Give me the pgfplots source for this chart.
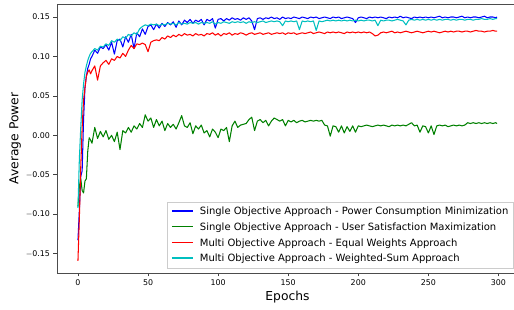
\documentclass[border=0pt]{standalone}
\usepackage{pgfplots}
\pgfplotsset{compat=1.18}
\usepackage{fontspec}
\setmainfont{DejaVu Sans}
\definecolor{mplb}{rgb}{0,0,1}
\definecolor{mplg}{rgb}{0,0.5,0}
\definecolor{mplr}{rgb}{1,0,0}
\definecolor{mplc}{rgb}{0,0.75,0.75}
\newcommand\limg[1]{\textcolor{#1}{\rule[0.32em]{21pt}{1.1pt}}\hspace{7pt}}
\begin{document}
\begin{tikzpicture}
\begin{axis}[
  scale only axis,
  width=461pt, height=269pt,
  xmin=-14.95, xmax=313.95,
  ymin=-0.1745, ymax=0.1665,
  xtick={0,50,100,150,200,250,300},
  ytick={-0.15,-0.10,-0.05,0,0.05,0.10,0.15},
  yticklabels={$-$0.15,$-$0.10,$-$0.05,0.00,0.05,0.10,0.15},
  xtick pos=bottom, ytick pos=left,
  tick align=outside, major tick length=3.5pt,
  tick style={black!75, line width=0.6pt},
  axis line style={black!70, line width=0.7pt},
  /pgf/number format/assume math mode=true,
  ticklabel style={font=\fontsize{7.9}{9}\selectfont},
  xlabel={Epochs}, ylabel={Average Power},
  label style={font=\fontsize{12.3}{14}\selectfont},
  xlabel style={yshift=2pt},
  ylabel style={yshift=-2pt},
  legend cell align=left,
  legend style={at={(1,0)}, xshift=-5pt, yshift=5pt, anchor=south east,
    draw=black!20, fill=white,
    font=\fontsize{10}{12}\selectfont, row sep=2.6pt, inner sep=2.5pt},
  legend image code/.code={},
]
\addplot[mplb, line width=1.05pt, line join=round] coordinates {
(0,-0.133)(1,-0.095)(2,-0.052)(3,-0.045)(4,0.02)(5,0.06)(6,0.075)(7,0.085)(8,0.09)(9,0.097)(10,0.1)
(12,0.108)(14,0.104)(16,0.112)(18,0.11)(20,0.115)(22,0.108)(24,0.118)(26,0.103)(28,0.12)(30,0.122)
(32,0.112)(34,0.125)(36,0.118)(38,0.128)(40,0.11)(42,0.13)(44,0.125)(46,0.135)(48,0.128)(50,0.138)
(52,0.14)(54,0.134)(56,0.141)(58,0.136)(60,0.142)(62,0.138)(64,0.143)(66,0.14)(68,0.144)(70,0.137)
(72,0.145)(74,0.14)(76,0.146)(78,0.143)(80,0.147)(82,0.142)(84,0.146)(86,0.144)(88,0.147)(90,0.14)
(92,0.147)(94,0.145)(96,0.148)(98,0.136)(100,0.147)(102,0.148)(104,0.145)(106,0.148)(108,0.146)(110,0.149)
(112,0.147)(114,0.148)(116,0.146)(118,0.149)(120,0.147)(122,0.149)(124,0.145)(126,0.134)(128,0.148)(130,0.149)
(132,0.147)(134,0.149)(136,0.148)(138,0.15)(140,0.148)(142,0.149)(144,0.147)(146,0.15)(148,0.148)(150,0.149)
(152,0.148)(154,0.15)(156,0.149)(158,0.148)(160,0.15)(162,0.149)(164,0.148)(166,0.15)(168,0.149)(170,0.15)
(172,0.148)(174,0.149)(176,0.15)(178,0.149)(180,0.148)(182,0.15)(184,0.149)(186,0.15)(188,0.148)(190,0.149)
(192,0.15)(194,0.149)(196,0.148)(198,0.143)(200,0.149)(202,0.15)(204,0.149)(206,0.148)(208,0.15)(210,0.149)
(212,0.15)(214,0.149)(216,0.15)(218,0.149)(220,0.148)(222,0.15)(224,0.149)(226,0.15)(228,0.149)(230,0.151)
(232,0.149)(234,0.15)(236,0.149)(238,0.148)(240,0.15)(242,0.149)(244,0.15)(246,0.149)(248,0.15)(250,0.149)
(252,0.15)(254,0.149)(256,0.15)(258,0.151)(260,0.149)(262,0.15)(264,0.149)(266,0.15)(268,0.15)(270,0.149)
(272,0.15)(274,0.151)(276,0.149)(278,0.15)(280,0.149)(282,0.15)(284,0.15)(286,0.149)(288,0.15)(290,0.151)
(292,0.149)(294,0.15)(296,0.15)(298,0.149)(299,0.15)
};
\addlegendentry{\limg{mplb}Single Objective Approach - Power Consumption Minimization}
\addplot[mplg, line width=1.05pt, line join=round] coordinates {
(0,-0.09)(1,-0.065)(2,-0.055)(3,-0.07)(4,-0.073)(5,-0.058)(6,-0.055)(7,-0.02)(8,-0.003)(9,-0.006)(10,-0.01)
(12,0.01)(14,-0.004)(16,0.005)(18,-0.002)(20,0.006)(22,-0.005)(24,0.0)(26,-0.008)(28,0.004)(30,-0.018)
(32,0.006)(34,0.003)(36,0.01)(38,0.004)(40,0.012)(42,0.008)(44,0.015)(46,0.01)(48,0.026)(50,0.018)
(52,0.022)(54,0.01)(56,0.02)(58,0.012)(60,0.018)(62,0.006)(64,0.015)(66,0.01)(68,0.014)(70,0.008)
(72,0.016)(74,0.025)(76,0.012)(78,0.01)(80,0.016)(82,0.002)(84,0.012)(86,0.008)(88,0.013)(90,0.003)
(92,0.006)(94,-0.002)(96,0.008)(98,0.004)(100,-0.003)(102,0.008)(104,0.006)(106,0.01)(108,-0.008)(110,0.012)
(112,0.018)(114,0.01)(116,0.013)(118,0.014)(120,0.015)(122,0.02)(124,0.023)(126,0.006)(128,0.018)(130,0.02)
(132,0.016)(134,0.019)(136,0.012)(138,0.018)(140,0.022)(142,0.02)(144,0.018)(146,0.02)(148,0.012)(150,0.019)
(152,0.017)(154,0.019)(156,0.016)(158,0.018)(160,0.019)(162,0.017)(164,0.018)(166,0.019)(168,0.018)(170,0.019)
(172,0.018)(174,0.019)(176,0.013)(178,0.012)(180,-0.001)(182,0.012)(184,0.011)(186,0.004)(188,0.012)(190,0.003)
(192,0.011)(194,0.005)(196,0.012)(198,0.004)(200,0.012)(202,0.011)(204,0.012)(206,0.013)(208,0.012)(210,0.011)
(212,0.012)(214,0.013)(216,0.012)(218,0.013)(220,0.012)(222,0.011)(224,0.013)(226,0.012)(228,0.013)(230,0.012)
(232,0.013)(234,0.012)(236,0.014)(238,0.016)(240,0.012)(242,0.013)(244,0.004)(246,0.012)(248,0.011)(250,0.003)
(252,0.012)(254,0.001)(256,0.012)(258,0.013)(260,0.012)(262,0.013)(264,0.011)(266,0.012)(268,0.013)(270,0.012)
(272,0.013)(274,0.012)(276,0.013)(278,0.016)(280,0.015)(282,0.016)(284,0.015)(286,0.016)(288,0.015)(290,0.016)
(292,0.015)(294,0.016)(296,0.015)(298,0.016)(299,0.015)
};
\addlegendentry{\limg{mplg}Single Objective Approach - User Satisfaction Maximization}
\addplot[mplr, line width=1.05pt, line join=round] coordinates {
(0,-0.159)(1,-0.105)(2,-0.04)(3,0.01)(4,0.045)(5,0.06)(6,0.075)(7,0.08)(8,0.083)(9,0.078)(10,0.082)
(12,0.088)(14,0.07)(16,0.088)(18,0.092)(20,0.095)(22,0.09)(24,0.097)(26,0.095)(28,0.1)(30,0.098)
(32,0.104)(34,0.1)(36,0.108)(38,0.114)(40,0.11)(42,0.116)(44,0.115)(46,0.117)(48,0.115)(50,0.106)
(52,0.118)(54,0.12)(56,0.121)(58,0.12)(60,0.124)(62,0.122)(64,0.126)(66,0.124)(68,0.127)(70,0.125)
(72,0.128)(74,0.126)(76,0.129)(78,0.127)(80,0.128)(82,0.126)(84,0.129)(86,0.127)(88,0.128)(90,0.126)
(92,0.129)(94,0.128)(96,0.13)(98,0.127)(100,0.129)(102,0.126)(104,0.129)(106,0.128)(108,0.13)(110,0.127)
(112,0.129)(114,0.128)(116,0.13)(118,0.129)(120,0.127)(122,0.129)(124,0.13)(126,0.128)(128,0.129)(130,0.13)
(132,0.128)(134,0.129)(136,0.13)(138,0.128)(140,0.129)(142,0.13)(144,0.129)(146,0.13)(148,0.128)(150,0.13)
(152,0.129)(154,0.13)(156,0.128)(158,0.129)(160,0.13)(162,0.129)(164,0.13)(166,0.131)(168,0.129)(170,0.13)
(172,0.131)(174,0.13)(176,0.129)(178,0.131)(180,0.13)(182,0.131)(184,0.13)(186,0.131)(188,0.13)(190,0.129)
(192,0.131)(194,0.13)(196,0.131)(198,0.13)(200,0.131)(202,0.13)(204,0.131)(206,0.13)(208,0.131)(210,0.129)
(212,0.126)(214,0.127)(216,0.13)(218,0.131)(220,0.13)(222,0.131)(224,0.132)(226,0.13)(228,0.131)(230,0.13)
(232,0.131)(234,0.132)(236,0.131)(238,0.13)(240,0.131)(242,0.132)(244,0.131)(246,0.13)(248,0.131)(250,0.132)
(252,0.131)(254,0.132)(256,0.131)(258,0.13)(260,0.131)(262,0.132)(264,0.131)(266,0.132)(268,0.131)(270,0.132)
(272,0.132)(274,0.131)(276,0.132)(278,0.132)(280,0.131)(282,0.132)(284,0.133)(286,0.132)(288,0.132)(290,0.131)
(292,0.132)(294,0.132)(296,0.133)(298,0.132)(299,0.132)
};
\addlegendentry{\limg{mplr}Multi Objective Approach - Equal Weights Approach}
\addplot[mplc, line width=1.05pt, line join=round] coordinates {
(0,-0.092)(1,-0.03)(2,0.01)(3,0.045)(4,0.065)(5,0.08)(6,0.088)(7,0.095)(8,0.1)(9,0.104)(10,0.106)
(12,0.11)(14,0.108)(16,0.113)(18,0.112)(20,0.116)(22,0.114)(24,0.12)(26,0.118)(28,0.122)(30,0.12)
(32,0.125)(34,0.123)(36,0.128)(38,0.126)(40,0.13)(42,0.128)(44,0.135)(46,0.138)(48,0.14)(50,0.139)
(52,0.141)(54,0.14)(56,0.141)(58,0.139)(60,0.141)(62,0.14)(64,0.142)(66,0.141)(68,0.142)(70,0.14)
(72,0.143)(74,0.141)(76,0.142)(78,0.141)(80,0.143)(82,0.142)(84,0.143)(86,0.141)(88,0.143)(90,0.142)
(92,0.143)(94,0.142)(96,0.144)(98,0.141)(100,0.143)(102,0.142)(104,0.144)(106,0.143)(108,0.142)(110,0.144)
(112,0.143)(114,0.144)(116,0.143)(118,0.144)(120,0.142)(122,0.144)(124,0.143)(126,0.144)(128,0.143)(130,0.144)
(132,0.145)(134,0.143)(136,0.144)(138,0.145)(140,0.144)(142,0.145)(144,0.144)(146,0.139)(148,0.145)(150,0.144)
(152,0.145)(154,0.144)(156,0.145)(158,0.134)(160,0.145)(162,0.144)(164,0.145)(166,0.144)(168,0.145)(170,0.133)
(172,0.145)(174,0.144)(176,0.145)(178,0.146)(180,0.145)(182,0.146)(184,0.145)(186,0.146)(188,0.145)(190,0.146)
(192,0.145)(194,0.146)(196,0.145)(198,0.146)(200,0.145)(202,0.146)(204,0.145)(206,0.146)(208,0.146)(210,0.145)
(212,0.146)(214,0.139)(216,0.146)(218,0.145)(220,0.146)(222,0.146)(224,0.145)(226,0.146)(228,0.147)(230,0.146)
(232,0.145)(234,0.14)(236,0.146)(238,0.147)(240,0.146)(242,0.147)(244,0.146)(246,0.147)(248,0.146)(250,0.147)
(252,0.146)(254,0.147)(256,0.146)(258,0.147)(260,0.146)(262,0.147)(264,0.147)(266,0.146)(268,0.147)(270,0.146)
(272,0.147)(274,0.147)(276,0.146)(278,0.147)(280,0.147)(282,0.146)(284,0.147)(286,0.147)(288,0.148)(290,0.147)
(292,0.147)(294,0.148)(296,0.147)(298,0.148)(299,0.148)
};
\addlegendentry{\limg{mplc}Multi Objective Approach - Weighted-Sum Approach}
\end{axis}
\pgfresetboundingbox
\path[use as bounding box] ([xshift=-57pt,yshift=-37pt]current axis.south west) rectangle ([xshift=-4pt,yshift=4pt]current axis.north east);
\end{tikzpicture}
\end{document}
